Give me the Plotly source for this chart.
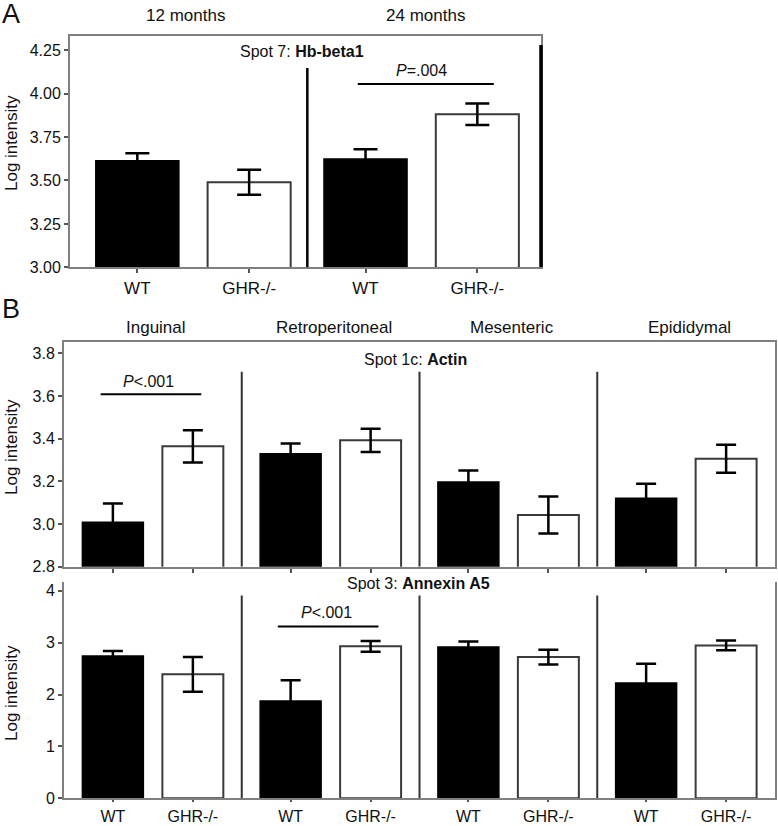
import plotly.graph_objects as go

# ---------------- data ----------------
genotypes = ["WT", "GHR-/-"]

# Panel A: Spot 7 Hb-beta1
ages = ["12 months", "24 months"]
hb_wt = [3.614, 3.624]
hb_wt_err = [0.043, 0.056]
hb_ghr = [3.490, 3.881]
hb_ghr_err = [0.072, 0.062]
hb_yticks = [3.00, 3.25, 3.50, 3.75, 4.00, 4.25]

# Panel B: depots
depots = ["Inguinal", "Retroperitoneal", "Mesenteric", "Epididymal"]
actin_wt = [3.008, 3.329, 3.197, 3.121]
actin_wt_err = [0.088, 0.048, 0.054, 0.068]
actin_ghr = [3.364, 3.392, 3.042, 3.306]
actin_ghr_err = [0.076, 0.054, 0.087, 0.066]
actin_yticks = [2.8, 3.0, 3.2, 3.4, 3.6, 3.8]

anx_wt = [2.742, 1.877, 2.915, 2.223]
anx_wt_err = [0.098, 0.398, 0.110, 0.373]
anx_ghr = [2.390, 2.929, 2.723, 2.948]
anx_ghr_err = [0.335, 0.103, 0.143, 0.096]
anx_yticks = [0, 1, 2, 3, 4]

# significance brackets: (line start, line end, line level, label x, label)
hb_sig = (0.721, 1.317, 4.056, 1.0, "<i>P</i>=.004")
actin_sig = (-0.294, 0.272, 3.608, -0.026, "<i>P</i>&lt;.001")
anx_sig = (0.703, 1.269, 3.313, 0.976, "<i>P</i>&lt;.001")

# ---------------- layout helpers ----------------
W, H = 778, 826
FONT = "Liberation Sans, Arial, Helvetica, sans-serif"


def px(x):
    return x / W


def py(y):
    return 1 - y / H


offA, offB = 0.245, 0.225
bwA, bwB = 0.364, 0.343

xA_wt = [i - offA for i in range(len(ages))]
xA_ghr = [i + offA for i in range(len(ages))]
xB_wt = [i - offB for i in range(len(depots))]
xB_ghr = [i + offB for i in range(len(depots))]

fig = go.Figure()

black_bar = dict(color="black", line=dict(color="black", width=1.5))
white_bar = dict(color="white", line=dict(color="#3a3a3a", width=2))


def add_pair(xw, yw, ew, xg, yg, eg, width, xa, ya, cap):
    fig.add_trace(go.Bar(x=xw, y=yw, width=width, marker=black_bar,
                         error_y=dict(type="data", array=ew, color="black",
                                      thickness=2.5, width=cap),
                         xaxis=xa, yaxis=ya, showlegend=False, hoverinfo="skip"))
    fig.add_trace(go.Bar(x=xg, y=yg, width=width, marker=white_bar,
                         error_y=dict(type="data", array=eg, color="black",
                                      thickness=2.5, width=cap),
                         xaxis=xa, yaxis=ya, showlegend=False, hoverinfo="skip"))


add_pair(xA_wt, hb_wt, hb_wt_err, xA_ghr, hb_ghr, hb_ghr_err, bwA, "x", "y", 12)
add_pair(xB_wt, actin_wt, actin_wt_err, xB_ghr, actin_ghr, actin_ghr_err, bwB, "x2", "y2", 10)
add_pair(xB_wt, anx_wt, anx_wt_err, xB_ghr, anx_ghr, anx_ghr_err, bwB, "x3", "y3", 10)

axis_common = dict(showgrid=False, zeroline=False, showline=True,
                   linecolor="#808080", linewidth=2, ticks="outside",
                   tickcolor="#555", ticklen=4, tickwidth=1.5,
                   tickfont=dict(family=FONT, size=16, color="#111"))

xticksA = sorted(xA_wt + xA_ghr)
xtextA = [genotypes[0], genotypes[1]] * len(ages)
xticksB = sorted(xB_wt + xB_ghr)
xtextB = [genotypes[0], genotypes[1]] * len(depots)

fig.update_layout(
    width=W, height=H, autosize=False,
    margin=dict(l=0, r=0, t=0, b=0, pad=0, autoexpand=False),
    paper_bgcolor="white", plot_bgcolor="white",
    barmode="overlay", font=dict(family=FONT, color="#111"),
    xaxis=dict(axis_common, domain=[px(70), px(541)], range=[-0.54, 1.524],
               tickvals=xticksA, ticktext=xtextA, mirror=True,
               tickfont=dict(family=FONT, size=17, color="#111"), anchor="y"),
    yaxis=dict(axis_common, domain=[py(267.3), py(35.7)], range=[3.0, 4.334],
               tickvals=hb_yticks, ticktext=[f"{v:.2f}" for v in hb_yticks],
               mirror=True, anchor="x"),
    xaxis2=dict(axis_common, domain=[px(64), px(775)], range=[-0.5, 3.5],
                tickvals=xticksB, showticklabels=False, mirror=True, anchor="y2"),
    yaxis2=dict(axis_common, domain=[py(566.7), py(342)], range=[2.8, 3.853],
                tickvals=actin_yticks, ticktext=[f"{v:.1f}" for v in actin_yticks],
                mirror=True, anchor="x2"),
    xaxis3=dict(axis_common, domain=[px(64), px(775)], range=[-0.5, 3.5],
                tickvals=xticksB, ticktext=xtextB, mirror=False, ticklen=2,
                tickfont=dict(family=FONT, size=16, color="#111"), anchor="y3"),
    yaxis3=dict(axis_common, domain=[py(798.3), py(582)], range=[0, 4.17],
                tickvals=anx_yticks, ticktext=[str(v) for v in anx_yticks],
                mirror=True, anchor="x3"),
)

shapes = []
# group dividers
for i in range(len(ages) - 1):
    shapes.append(dict(type="line", xref="x", yref="y", x0=i + 0.5, x1=i + 0.5,
                       y0=3.0, y1=4.148, line=dict(color="black", width=2.5)))
for i in range(len(depots) - 1):
    shapes.append(dict(type="line", xref="x2", yref="y2", x0=i + 0.5, x1=i + 0.5,
                       y0=2.8, y1=3.713, line=dict(color="#333", width=2)))
    shapes.append(dict(type="line", xref="x3", yref="y3", x0=i + 0.5, x1=i + 0.5,
                       y0=0, y1=3.91, line=dict(color="#333", width=2)))
# bold right edge of panel A
shapes.append(dict(type="line", xref="paper", yref="y", x0=px(541), x1=px(541),
                   y0=3.0, y1=4.28, line=dict(color="black", width=3.5)))

ann = []

# significance lines and labels
for (x0, x1, yv, xl, lab), xr, yr, dy in [(hb_sig, "x", "y", 0.078),
                                          (actin_sig, "x2", "y2", 0.061),
                                          (anx_sig, "x3", "y3", 0.26)]:
    shapes.append(dict(type="line", xref=xr, yref=yr, x0=x0, x1=x1,
                       y0=yv, y1=yv, line=dict(color="black", width=2)))
    ann.append(dict(x=xl, y=yv + dy, xref=xr, yref=yr, text=lab, showarrow=False,
                    xanchor="center", yanchor="middle",
                    font=dict(family=FONT, size=16, color="#111")))
fig.update_layout(shapes=shapes)


def text(x, y, s, size=17, xref="paper", yref="paper", angle=0):
    ann.append(dict(x=x, y=y, xref=xref, yref=yref, text=s, showarrow=False,
                    xanchor="center", yanchor="middle", textangle=angle,
                    font=dict(family=FONT, size=size, color="#111")))


text(px(11), py(14), "A", size=27)
text(px(11), py(309), "B", size=27)
text(px(185), py(16), ages[0])
text(px(425), py(16), ages[1])
for i, d in enumerate(depots):
    ann.append(dict(x=i + 0.02, y=py(328), xref="x2", yref="paper", text=d,
                    showarrow=False, xanchor="center", yanchor="middle",
                    font=dict(family=FONT, size=17, color="#111")))
text(px(302), py(52), "Spot 7: <b>Hb-beta1</b>", size=16)
text(px(415), py(359.5), "Spot 1c: <b>Actin</b>", size=16)
text(px(418), py(583.5), "Spot 3: <b>Annexin A5</b>", size=16)
for yc in (143, 447, 693):
    text(px(11), py(yc), "Log intensity", size=17, angle=-90)

fig.update_layout(annotations=ann)

fig.write_html("out.html",
               config={"responsive": False, "displayModeBar": False},
               post_script="document.body.style.margin='0px';"
                           "document.body.style.overflow='hidden';")
